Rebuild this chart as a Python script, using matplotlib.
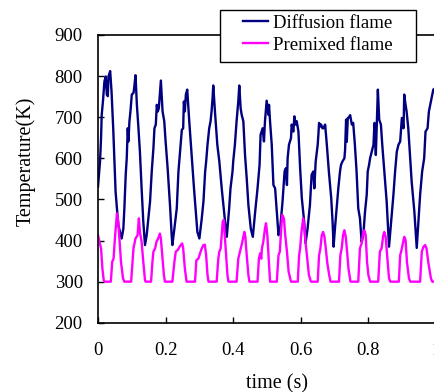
import matplotlib
matplotlib.use("Agg")
import matplotlib.pyplot as plt
from matplotlib.patches import Rectangle

# Diffusion flame (time s, temperature K)
diff_t = [0.000, 0.006, 0.009, 0.011, 0.015, 0.019, 0.023, 0.026, 0.029, 0.031, 0.036, 0.040, 0.045, 0.048,
          0.052, 0.056, 0.060, 0.065, 0.070, 0.075, 0.078, 0.082, 0.085, 0.088, 0.090, 0.093, 0.096, 0.100,
          0.105, 0.107, 0.111, 0.115, 0.119, 0.124, 0.129, 0.134, 0.139, 0.144, 0.149, 0.154, 0.159, 0.164,
          0.167, 0.171, 0.174, 0.177, 0.180, 0.183, 0.186, 0.191, 0.196, 0.200, 0.206, 0.213, 0.218, 0.220,
          0.226, 0.233, 0.238, 0.243, 0.248, 0.252, 0.254, 0.257, 0.260, 0.264, 0.270, 0.277, 0.284, 0.290,
          0.294, 0.300, 0.307, 0.312, 0.317, 0.320, 0.324, 0.329, 0.333, 0.336, 0.339, 0.341, 0.346, 0.353,
          0.359, 0.366, 0.373, 0.379, 0.381, 0.388, 0.392, 0.398, 0.400, 0.405, 0.410, 0.415, 0.418, 0.422,
          0.425, 0.430, 0.435, 0.440, 0.445, 0.452, 0.458, 0.465, 0.472, 0.478, 0.481, 0.487, 0.491, 0.494,
          0.499, 0.504, 0.506, 0.509, 0.514, 0.519, 0.524, 0.529, 0.534, 0.539, 0.546, 0.552, 0.556, 0.559,
          0.561, 0.565, 0.571, 0.573, 0.578, 0.581, 0.585, 0.588, 0.593, 0.598, 0.603, 0.610, 0.614, 0.620,
          0.627, 0.632, 0.637, 0.640, 0.644, 0.650, 0.652, 0.654, 0.657, 0.660, 0.664, 0.667, 0.672, 0.677,
          0.683, 0.690, 0.694, 0.697, 0.701, 0.706, 0.711, 0.716, 0.719, 0.723, 0.729, 0.731, 0.734, 0.736,
          0.739, 0.743, 0.746, 0.751, 0.755, 0.760, 0.765, 0.770, 0.775, 0.780, 0.785, 0.790, 0.795, 0.798,
          0.802, 0.805, 0.810, 0.815, 0.818, 0.822, 0.825, 0.828, 0.832, 0.837, 0.841, 0.847, 0.854, 0.859,
          0.861, 0.869, 0.874, 0.879, 0.884, 0.889, 0.894, 0.899, 0.904, 0.906, 0.910, 0.913, 0.918, 0.923,
          0.928, 0.936, 0.943, 0.948, 0.953, 0.959, 0.965, 0.969, 0.975, 0.979, 0.985, 0.992, 1.000]
diff_T = [531, 592, 649, 706, 742, 787, 799, 755, 751, 799, 812, 763, 673, 608,
          519, 478, 438, 421, 405, 429, 478, 560, 600, 673, 641, 690, 714, 755,
          759, 771, 802, 730, 682, 616, 527, 446, 389, 413, 454, 495, 568, 625,
          673, 682, 730, 714, 722, 755, 789, 714, 690, 641, 576, 486, 413, 389,
          429, 478, 568, 620, 669, 673, 738, 714, 755, 767, 690, 608, 527, 462,
          421, 405, 454, 495, 568, 592, 633, 673, 690, 714, 747, 777, 714, 633,
          592, 527, 470, 421, 409, 478, 527, 568, 592, 633, 690, 738, 777, 722,
          706, 690, 608, 551, 486, 429, 409, 470, 527, 584, 657, 673, 641, 690,
          740, 706, 730, 690, 633, 535, 527, 470, 413, 429, 495, 568, 576, 535,
          600, 633, 649, 682, 665, 702, 682, 690, 665, 576, 503, 446, 393, 429,
          486, 560, 568, 527, 592, 633, 657, 686, 677, 682, 673, 673, 682, 633,
          568, 503, 446, 385, 429, 478, 527, 568, 584, 592, 600, 620, 694, 640,
          698, 700, 705, 682, 686, 633, 568, 478, 454, 397, 413, 470, 511, 568,
          584, 600, 616, 633, 686, 608, 690, 767, 694, 682, 633, 568, 495, 413,
          385, 462, 511, 568, 616, 633, 641, 698, 673, 755, 730, 714, 673, 608,
          543, 470, 382, 446, 511, 568, 600, 665, 673, 714, 738, 767, 772]

# Premixed flame (time s, temperature K)
prem_t = [0.000, 0.009, 0.013, 0.017, 0.020, 0.038, 0.042, 0.046, 0.050, 0.056, 0.060, 0.064, 0.068, 0.074,
          0.078, 0.098, 0.102, 0.105, 0.111, 0.117, 0.121, 0.124, 0.129, 0.134, 0.139, 0.141, 0.157, 0.161,
          0.164, 0.169, 0.173, 0.178, 0.183, 0.186, 0.190, 0.195, 0.198, 0.220, 0.226, 0.230, 0.236, 0.243,
          0.249, 0.252, 0.257, 0.262, 0.287, 0.291, 0.297, 0.302, 0.307, 0.312, 0.316, 0.320, 0.324, 0.327,
          0.351, 0.356, 0.359, 0.363, 0.369, 0.372, 0.375, 0.379, 0.383, 0.386, 0.410, 0.415, 0.420, 0.426,
          0.430, 0.433, 0.436, 0.440, 0.445, 0.448, 0.472, 0.476, 0.480, 0.483, 0.485, 0.489, 0.494, 0.497,
          0.501, 0.505, 0.509, 0.529, 0.534, 0.538, 0.542, 0.545, 0.550, 0.554, 0.559, 0.564, 0.571, 0.591,
          0.595, 0.598, 0.602, 0.607, 0.610, 0.614, 0.620, 0.624, 0.630, 0.650, 0.654, 0.658, 0.662, 0.666,
          0.670, 0.674, 0.678, 0.684, 0.688, 0.713, 0.717, 0.721, 0.725, 0.729, 0.733, 0.737, 0.741, 0.747,
          0.770, 0.775, 0.780, 0.785, 0.788, 0.792, 0.796, 0.800, 0.805, 0.829, 0.834, 0.839, 0.844, 0.847,
          0.851, 0.857, 0.861, 0.865, 0.890, 0.894, 0.898, 0.903, 0.906, 0.910, 0.914, 0.920, 0.924, 0.953,
          0.958, 0.963, 0.968, 0.972, 0.977, 0.985, 0.989, 1.000]
prem_T = [413, 381, 332, 303, 300, 300, 348, 356, 405, 466, 446, 397, 348, 308,
          300, 300, 348, 381, 405, 413, 454, 421, 397, 348, 304, 300, 300, 348,
          373, 381, 397, 405, 417, 405, 364, 316, 300, 300, 348, 373, 377, 387,
          393, 381, 332, 300, 300, 352, 356, 369, 381, 389, 390, 364, 316, 300,
          300, 356, 373, 381, 446, 450, 413, 364, 316, 300, 300, 356, 373, 393,
          409, 421, 409, 364, 316, 300, 300, 356, 369, 356, 381, 397, 429, 442,
          413, 356, 300, 300, 364, 373, 429, 462, 454, 413, 373, 324, 300, 300,
          364, 381, 421, 454, 438, 397, 348, 316, 300, 300, 364, 381, 413, 421,
          409, 381, 348, 316, 300, 300, 364, 381, 413, 425, 409, 373, 332, 300,
          300, 381, 393, 421, 425, 413, 348, 316, 300, 300, 373, 381, 413, 421,
          409, 348, 308, 300, 300, 364, 377, 397, 409, 401, 348, 308, 300, 300,
          373, 385, 389, 381, 348, 308, 300, 300]

x_ticks = [0, 0.2, 0.4, 0.6, 0.8, 1.0]
x_labels = ["0", "0.2", "0.4", "0.6", "0.8", "1"]
y_ticks = [200, 300, 400, 500, 600, 700, 800, 900]
series_names = ["Diffusion flame", "Premixed flame"]
colors = ['#000080', '#FF00FF']

plt.rcParams['font.family'] = ['Liberation Serif', 'DejaVu Serif']
FS = 13.5
LFS = 14.5
W, H = 434, 392

fig = plt.figure(figsize=(W / 100, H / 100), dpi=100)
ax = fig.add_axes([98 / W, 1 - 322.8 / H, 338 / W, (322.8 - 34.9) / H])

l1, = ax.plot(diff_t, diff_T, color=colors[0], lw=1.7)
l2, = ax.plot(prem_t, prem_T, color=colors[1], lw=1.7)

ax.set_xlim(0, 1)
ax.set_ylim(200, 900)
ax.set_xticks(x_ticks)
ax.set_xticklabels(x_labels)
ax.set_yticks(y_ticks)
ax.tick_params(direction='in', length=4, width=1, labelsize=FS, color='black')
ax.tick_params(axis='y', pad=11)
ax.tick_params(axis='x', pad=14)
for s in ax.spines.values():
    s.set_linewidth(1.2)
    s.set_color('black')

ax.set_xlabel("time (s)", fontsize=LFS)
ax.set_ylabel("Temperature(K)", fontsize=LFS)
ax.xaxis.set_label_coords((277 - 98) / 338, -(374 - 322.8) / 287.9)
ax.yaxis.set_label_coords(-(98 - 36) / 338, (322.8 - 161) / 287.9)

# legend box
rect = Rectangle((220 / W, 1 - 62 / H), (416 - 220) / W, 52 / H, transform=fig.transFigure,
                 facecolor='white', edgecolor='black', linewidth=1.0, zorder=5)
fig.patches.append(rect)
leg = fig.legend([l1, l2], series_names, loc='upper left',
                 bbox_to_anchor=(243 / W, 1 - 14.5 / H), bbox_transform=fig.transFigure,
                 fontsize=FS, frameon=False, borderpad=0, labelspacing=0.28,
                 handlelength=1.33, handletextpad=0.27, borderaxespad=0)
leg.set_zorder(6)

fig.savefig("out.png", dpi=100)
